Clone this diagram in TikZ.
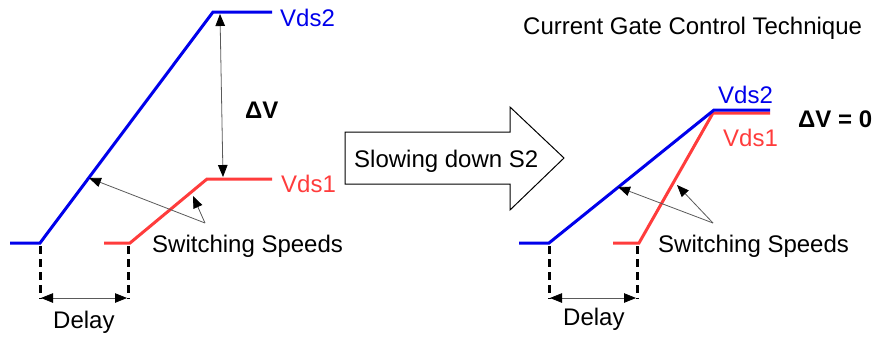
\documentclass[tikz,border=0pt]{standalone}
\usepackage{fontspec}
\setmainfont{Liberation Sans}
\usetikzlibrary{arrows.meta}
\definecolor{vblue}{RGB}{0,0,235}
\definecolor{vred}{RGB}{255,60,60}
\definecolor{thinline}{RGB}{90,90,90}
\begin{document}
\begin{tikzpicture}[x=1pt,y=-1pt,
  lbl/.style={inner sep=0pt,font=\fontsize{24}{28}\selectfont,anchor=base west},
  bluel/.style={lbl,text=vblue},
  redl/.style={lbl,text=vred},
  boldl/.style={lbl,font=\fontsize{24}{28}\selectfont\bfseries},
  wave/.style={line width=3pt,line join=miter},
  ptr/.style={draw=thinline,line width=0.8pt,-{Triangle[length=12pt,width=9.5pt,color=black]}},
  dimarrow/.style={draw=thinline,line width=0.8pt,{Triangle[length=12pt,width=9.5pt,color=black]}-{Triangle[length=12pt,width=9.5pt,color=black]}},
  dashv/.style={line width=3pt,dash pattern=on 8pt off 5pt},
  bigarrow/.style={draw=black,line width=1pt,line join=miter}]
\useasboundingbox (0,0) rectangle (875,338);

% ---------- left plot ----------
\coordinate (b0) at (10,243);
\coordinate (b1) at (40,243);
\coordinate (b2) at (213,12);
\coordinate (b3) at (272,12);
\draw[wave,vblue] (b0) -- (b1) -- (b2) -- (b3);
\coordinate (r0) at (104,243);
\coordinate (r1) at (130,243);
\coordinate (r2) at (207,179);
\coordinate (r3) at (272,179);
\draw[wave,vred] (r0) -- (r1) -- (r2) -- (r3);

\node[bluel] (vds2L) at (280,26) {Vds2};
\node[redl] (vds1L) at (281,192) {Vds1};
\node[boldl] (dvL) at (245,118) {ΔV};

\coordinate (dvTop) at (220,14);
\coordinate (dvBot) at (223,177);
\draw[dimarrow] (dvTop) -- (dvBot);

\node[lbl] (ssL) at (152,252) {Switching Speeds};
\coordinate (ssLsrc) at (205,223);
\coordinate (ssLb) at (89,178);
\coordinate (ssLr) at (193,196);
\draw[ptr] (ssLsrc) -- (ssLb);
\draw[ptr] (ssLsrc) -- (ssLr);

\coordinate (dL1) at (40,246);
\coordinate (dL2) at (40,299);
\coordinate (dL3) at (128,246);
\coordinate (dL4) at (128,299);
\draw[dashv] (dL1) -- (dL2);
\draw[dashv] (dL3) -- (dL4);
\coordinate (delL1) at (41,298);
\coordinate (delL2) at (127,298);
\draw[dimarrow] (delL1) -- (delL2);
\node[lbl] (delayL) at (53,328) {Delay};

% ---------- big arrow ----------
\draw[bigarrow] (345,132) -- (510,132) -- (510,107) -- (564,158) -- (510,210) -- (510,184) -- (345,184) -- cycle;
\node[lbl] (slow) at (354,167) {Slowing down S2};

% ---------- title ----------
\node[lbl] (title) at (523,34) {Current Gate Control Technique};

% ---------- right plot ----------
\coordinate (B0) at (519,243);
\coordinate (B1) at (549,243);
\coordinate (B2) at (714,110);
\coordinate (B3) at (770,110);
\coordinate (R0) at (613,243);
\coordinate (R1) at (639,243);
\coordinate (R2) at (713,113);
\coordinate (R3) at (770,113);
\draw[wave,vred] (R0) -- (R1) -- (R2) -- (R3);
\draw[wave,vblue] (B0) -- (B1) -- (B2) -- (B3);

\node[bluel] (vds2R) at (718,103) {Vds2};
\node[redl] (vds1R) at (723,146) {Vds1};
\node[boldl] (dvR) at (798,127) {ΔV = 0};

\node[lbl] (ssR) at (658,252) {Switching Speeds};
\coordinate (ssRsrc) at (713,223);
\coordinate (ssRb) at (618,187);
\coordinate (ssRr) at (677,185);
\draw[ptr] (ssRsrc) -- (ssRb);
\draw[ptr] (ssRsrc) -- (ssRr);

\coordinate (dR1) at (549,246);
\coordinate (dR2) at (549,299);
\coordinate (dR3) at (637,246);
\coordinate (dR4) at (637,299);
\draw[dashv] (dR1) -- (dR2);
\draw[dashv] (dR3) -- (dR4);
\coordinate (delR1) at (550,298);
\coordinate (delR2) at (636,298);
\draw[dimarrow] (delR1) -- (delR2);
\node[lbl] (delayR) at (563,325) {Delay};
\end{tikzpicture}
\end{document}
